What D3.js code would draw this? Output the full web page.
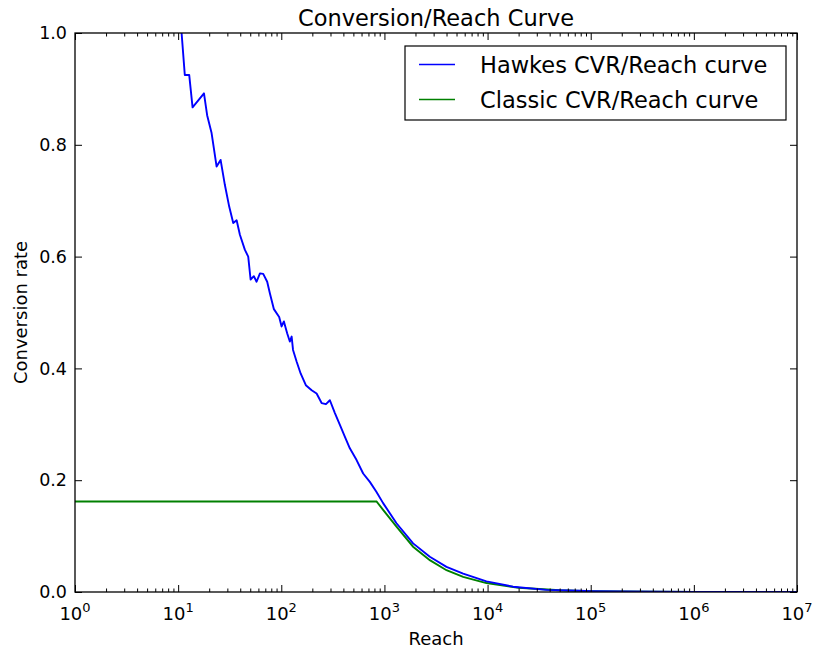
<!DOCTYPE html>
<html>
<head>
<meta charset="utf-8">
<script src="https://cdn.jsdelivr.net/npm/d3@7"></script>
<style>
  body { margin: 0; background: #fff; }
  text { font-family: "DejaVu Sans", sans-serif; fill: #000; }
</style>
</head>
<body>
<svg id="chart" width="813" height="650"></svg>
<script>
// ---------- data ----------
const hawkesReach = [10.6, 10.8, 11.6, 12.8, 13.8, 17.8, 19.1, 21.1, 23.6, 25.8, 28.4, 31.3, 34.2, 36.9, 39.7, 44.4, 47.8, 50.4, 54.2, 57.6, 62.1, 66.8, 73.0, 77.6, 84.8, 95.4, 100.7, 106, 114, 121, 126, 130, 141, 154, 173, 197, 220, 246, 271, 296, 331, 370, 413, 462, 537, 622, 722, 838, 971, 1309, 1897, 2754, 3997, 5796, 9750, 17660, 37200, 78200, 100000, 200000, 1000000, 10000000];
const hawkesRate = [1.03, 1.0, 0.925, 0.925, 0.867, 0.892, 0.853, 0.821, 0.761, 0.773, 0.728, 0.689, 0.660, 0.665, 0.639, 0.612, 0.600, 0.559, 0.565, 0.555, 0.570, 0.569, 0.555, 0.534, 0.506, 0.492, 0.475, 0.484, 0.463, 0.448, 0.457, 0.433, 0.412, 0.391, 0.370, 0.361, 0.355, 0.338, 0.336, 0.343, 0.320, 0.299, 0.278, 0.257, 0.236, 0.212, 0.197, 0.179, 0.159, 0.123, 0.087, 0.063, 0.045, 0.033, 0.019, 0.0095, 0.0038, 0.0022, 0.0016, 0.0008, 0.00016, 0.00002];

const classicReach = [1, 838, 971, 1309, 1897, 2754, 3997, 5796, 9750, 20000, 50000, 100000, 1000000, 10000000];
const classicRate = [0.162, 0.162, 0.147, 0.117, 0.081, 0.057, 0.039, 0.027, 0.016, 0.0075, 0.003, 0.0015, 0.00015, 0.000015];

const xTickExponents = [0, 1, 2, 3, 4, 5, 6, 7];
const yTickValues = [0.0, 0.2, 0.4, 0.6, 0.8, 1.0];
const seriesNames = ["Hawkes CVR/Reach curve", "Classic CVR/Reach curve"];
const seriesColors = ["#0000ff", "#008000"];
const titleText = "Conversion/Reach Curve";
const xLabelText = "Reach";
const yLabelText = "Conversion rate";

// ---------- layout ----------
const L = 75, R = 797, T = 33, B = 592;
const svg = d3.select("#chart");
svg.append("rect").attr("width", 813).attr("height", 650).attr("fill", "#fff");

const x = d3.scaleLog().domain([1, 1e7]).range([L, R]);
const y = d3.scaleLinear().domain([0, 1]).range([B, T]);

const majors = xTickExponents.map(e => Math.pow(10, e));
const minors = [];
for (let e = 0; e < 7; e++) for (let m = 2; m <= 9; m++) minors.push(m * Math.pow(10, e));

svg.append("defs").append("clipPath").attr("id", "clip")
  .append("rect").attr("x", L).attr("y", T).attr("width", R - L).attr("height", B - T);

// ---------- lines ----------
const line = d3.line().x(d => x(d[0])).y(d => y(d[1]));
const plot = svg.append("g").attr("clip-path", "url(#clip)");
plot.append("path")
  .datum(classicReach.map((r, i) => [r, classicRate[i]]))
  .attr("d", line).attr("fill", "none").attr("stroke", seriesColors[1]).attr("stroke-width", 1.9);
plot.append("path")
  .datum(hawkesReach.map((r, i) => [r, hawkesRate[i]]))
  .attr("d", line).attr("fill", "none").attr("stroke", seriesColors[0]).attr("stroke-width", 1.9)
  .attr("stroke-linejoin", "round");

// ---------- axes ----------
function styleAxis(g) {
  g.select(".domain").remove();
  g.selectAll(".tick line").attr("stroke", "#000").attr("stroke-width", 1);
}
svg.append("g").attr("transform", `translate(0,${B})`)
  .call(d3.axisBottom(x).tickValues(majors).tickSize(-7).tickFormat("")).call(styleAxis);
svg.append("g").attr("transform", `translate(0,${B})`)
  .call(d3.axisBottom(x).tickValues(minors).tickSize(-3.5).tickFormat("")).call(styleAxis);
svg.append("g").attr("transform", `translate(0,${T})`)
  .call(d3.axisTop(x).tickValues(majors).tickSize(-7).tickFormat("")).call(styleAxis);
svg.append("g").attr("transform", `translate(0,${T})`)
  .call(d3.axisTop(x).tickValues(minors).tickSize(-3.5).tickFormat("")).call(styleAxis);

const yl = svg.append("g").attr("transform", `translate(${L},0)`)
  .call(d3.axisLeft(y).tickValues(yTickValues).tickSize(-7).tickPadding(8).tickFormat(d3.format(".1f")))
  .call(styleAxis);
yl.selectAll(".tick text").attr("font-size", 17.5).attr("font-family", "DejaVu Sans").attr("fill", "#000");
svg.append("g").attr("transform", `translate(${R},0)`)
  .call(d3.axisRight(y).tickValues(yTickValues).tickSize(-7).tickFormat("")).call(styleAxis);

// x tick labels 10^n
const xl = svg.append("g");
xTickExponents.forEach(e => {
  const t = xl.append("text").attr("x", x(Math.pow(10, e))).attr("y", 620)
    .attr("text-anchor", "middle").attr("font-size", 18);
  t.append("tspan").text("10");
  t.append("tspan").attr("dy", -8).attr("font-size", 13).text(String(e));
});

// frame
svg.append("rect").attr("x", L).attr("y", T).attr("width", R - L).attr("height", B - T)
  .attr("fill", "none").attr("stroke", "#000").attr("stroke-width", 1.3);

// ---------- labels ----------
svg.append("text").attr("x", (L + R) / 2).attr("y", 26).attr("text-anchor", "middle")
  .attr("font-size", 22.5).text(titleText);
svg.append("text").attr("x", (L + R) / 2).attr("y", 645).attr("text-anchor", "middle")
  .attr("font-size", 18).text(xLabelText);
svg.append("text").attr("transform", `translate(27,${(T + B) / 2}) rotate(-90)`)
  .attr("text-anchor", "middle").attr("font-size", 18).text(yLabelText);

// ---------- legend ----------
const lg = svg.append("g");
lg.append("rect").attr("x", 405).attr("y", 46).attr("width", 381).attr("height", 74)
  .attr("fill", "#fff").attr("stroke", "#000").attr("stroke-width", 1.2);
seriesNames.forEach((name, i) => {
  const yy = 64.5 + i * 35;
  lg.append("line").attr("x1", 419).attr("x2", 455).attr("y1", yy).attr("y2", yy)
    .attr("stroke", seriesColors[i]).attr("stroke-width", 1.6);
  lg.append("text").attr("x", 480).attr("y", yy + 8.3).attr("font-size", 22.5).text(name);
});
</script>
</body>
</html>
